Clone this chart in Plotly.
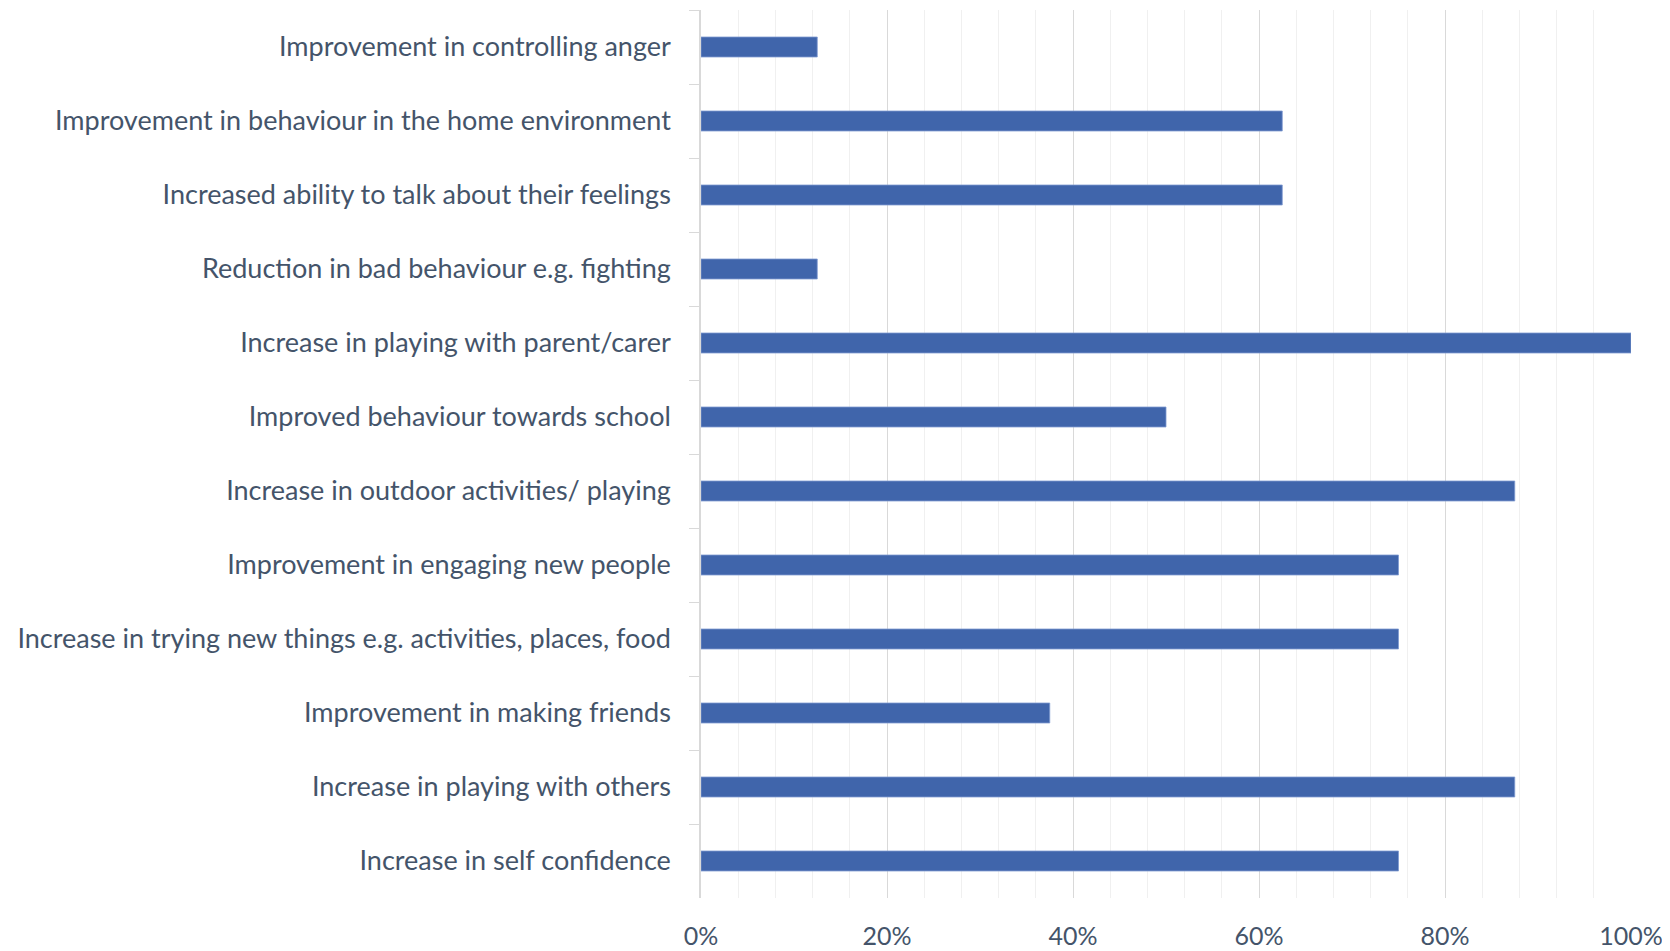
import plotly.graph_objects as go

categories = [
    "Improvement in controlling anger",
    "Improvement in behaviour in the home environment",
    "Increased ability to talk about their feelings",
    "Reduction in bad behaviour e.g. fighting",
    "Increase in playing with parent/carer",
    "Improved behaviour towards school",
    "Increase in outdoor activities/ playing",
    "Improvement in engaging new people",
    "Increase in trying new things e.g. activities, places, food",
    "Improvement in making friends",
    "Increase in playing with others",
    "Increase in self confidence",
]
values = [0.125, 0.625, 0.625, 0.125, 1.0, 0.5, 0.875, 0.75, 0.75, 0.375, 0.875, 0.75]
x_ticks = [0, 0.2, 0.4, 0.6, 0.8, 1.0]

text_color = "#44546A"
font_family = "Lato, 'Noto Sans', sans-serif"

fig = go.Figure(
    go.Bar(
        x=values,
        y=categories,
        orientation="h",
        width=0.27,
        marker=dict(color="#4065AB", line=dict(color="#7F9BD0", width=0.8)),
    )
)

fig.update_layout(
    width=1670,
    height=951,
    margin=dict(l=693, r=47, t=2, b=61),
    plot_bgcolor="white",
    paper_bgcolor="white",
    showlegend=False,
    font=dict(family=font_family, size=27, color=text_color),
)

fig.update_xaxes(
    range=[0, 1],
    tickvals=x_ticks,
    tickformat=".0%",
    showgrid=True,
    gridcolor="#D9D9D9",
    gridwidth=1.3,
    minor=dict(dtick=0.04, showgrid=True, gridcolor="#F0F0F0", gridwidth=1),
    zeroline=False,
    showline=False,
    ticks="",
    ticklabelstandoff=21,
    tickfont=dict(size=25, color=text_color),
)

fig.update_yaxes(
    categoryorder="array",
    categoryarray=categories,
    autorange="reversed",
    showline=True,
    linecolor="#D9D9D9",
    linewidth=1.5,
    ticks="outside",
    tickson="boundaries",
    ticklen=10,
    tickcolor="#D9D9D9",
    ticklabelstandoff=23,
    showgrid=False,
    tickfont=dict(size=27, color=text_color),
)

fig.write_html("out.html")
